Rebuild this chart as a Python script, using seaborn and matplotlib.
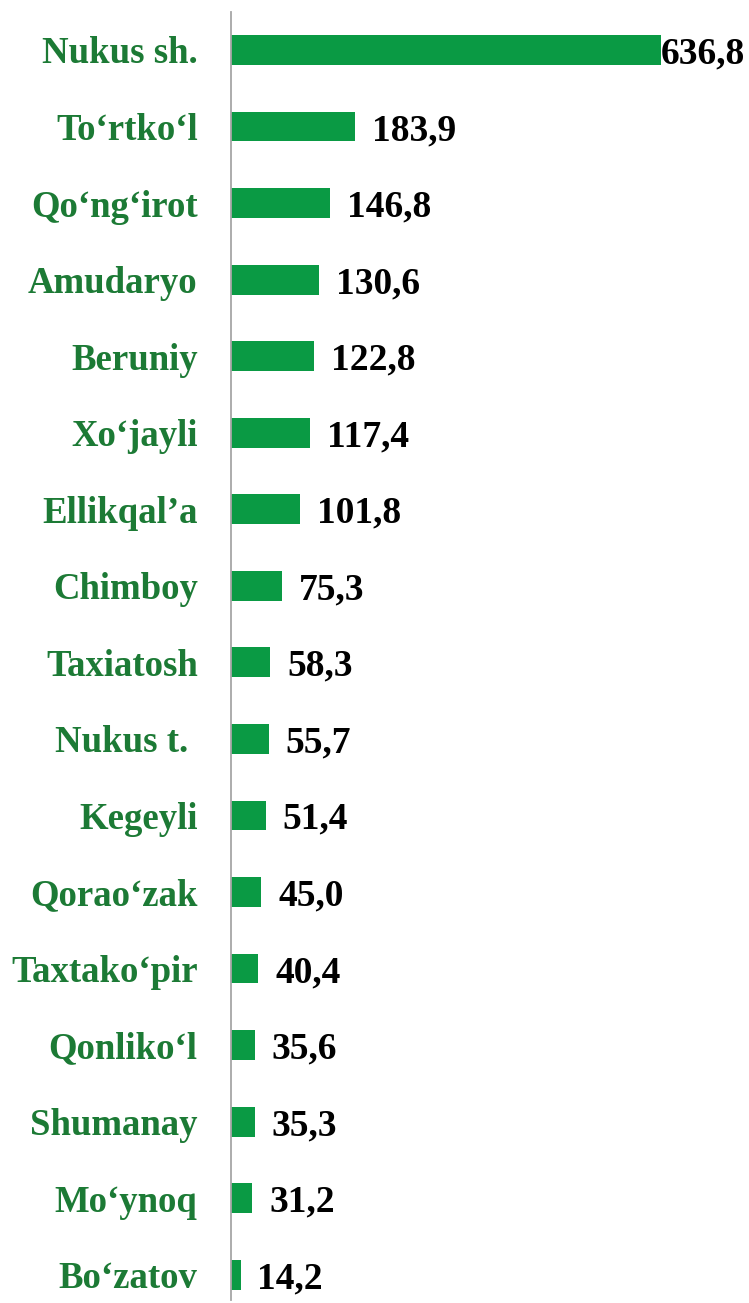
import matplotlib
matplotlib.use("Agg")
import matplotlib.pyplot as plt
import seaborn as sns
import pandas as pd

districts = ["Nukus sh.", "To‘rtko‘l", "Qo‘ng‘irot", "Amudaryo", "Beruniy",
             "Xo‘jayli", "Ellikqal’a", "Chimboy", "Taxiatosh", "Nukus t. ",
             "Kegeyli", "Qorao‘zak", "Taxtako‘pir", "Qonliko‘l", "Shumanay",
             "Mo‘ynoq", "Bo‘zatov"]
values = [636.8, 183.9, 146.8, 130.6, 122.8, 117.4, 101.8, 75.3, 58.3, 55.7,
          51.4, 45.0, 40.4, 35.6, 35.3, 31.2, 14.2]
value_labels = ["636,8", "183,9", "146,8", "130,6", "122,8", "117,4", "101,8",
                "75,3", "58,3", "55,7", "51,4", "45,0", "40,4", "35,6", "35,3",
                "31,2", "14,2"]

df = pd.DataFrame({"district": districts, "value": values})

sns.set_theme(style="white")
plt.rcParams["font.family"] = ["Liberation Serif", "DejaVu Serif"]

BAR = "#0A9A44"
LABEL = "#1C7A35"

fig = plt.figure(figsize=(7.49, 13.03), dpi=100)
ax = fig.add_axes([0.3084, 0.0023, 1 - 0.3084, 0.9885])

sns.barplot(data=df, x="value", y="district", orient="h", color=BAR,
            saturation=1, width=0.39, ax=ax, edgecolor="none")

ax.set_xlim(0, 767)
ax.set_ylim(16.33, -0.496)

for i, (v, lab) in enumerate(zip(values, value_labels)):
    pad = 0 if i == 0 else 25
    ax.text(v + pad, i, lab, ha="left", va="center_baseline", fontsize=27,
            fontweight="bold", color="black")

ax.set_xlabel("")
ax.set_ylabel("")
ax.set_xticks([])
ax.tick_params(axis="y", length=0, pad=24)
for t in ax.get_yticklabels():
    t.set_fontsize(26.5)
    t.set_fontweight("bold")
    t.set_color(LABEL)
    t.set_verticalalignment("center_baseline")

for s in ["top", "right", "bottom"]:
    ax.spines[s].set_visible(False)
ax.spines["left"].set_color("#A6A6A6")
ax.spines["left"].set_linewidth(1.3)

fig.savefig("out.png", dpi=100)
